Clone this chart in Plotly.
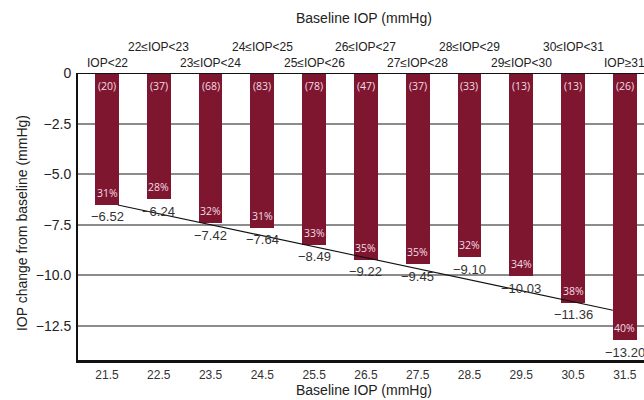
import plotly.graph_objects as go

# Baseline IOP groups (bin midpoints) and their labels
baseline_mid = [21.5, 22.5, 23.5, 24.5, 25.5, 26.5, 27.5, 28.5, 29.5, 30.5, 31.5]
group_labels = ["IOP<22", "22≤IOP<23", "23≤IOP<24", "24≤IOP<25", "25≤IOP<26",
                "26≤IOP<27", "27≤IOP<28", "28≤IOP<29", "29≤IOP<30", "30≤IOP<31", "IOP≥31"]

# Mean IOP change from baseline (mmHg), percent reduction and group sizes
iop_change = [-6.52, -6.24, -7.42, -7.64, -8.49, -9.22, -9.45, -9.10, -10.03, -11.36, -13.20]
pct_reduction = [31, 28, 32, 31, 33, 35, 35, 32, 34, 38, 40]
n_patients = [20, 37, 68, 83, 78, 47, 37, 33, 13, 13, 26]

# Trend line endpoints
trend_x = [21.71, 31.27]
trend_y = [-6.52, -11.72]

# Y axis ticks
y_ticks = [0, -2.5, -5.0, -7.5, -10.0, -12.5]
y_ticktext = ["0", "\u22122.5", "\u22125.0", "\u22127.5", "\u221210.0", "\u221212.5"]

BAR = "#7e1630"
AXIS_FONT = "Liberation Sans, Arial, sans-serif"
INNER_FONT = "Open Sans, sans-serif"


def fmt(v):
    return f"{v:.2f}".replace("-", "\u2212")


fig = go.Figure()

fig.add_trace(go.Bar(
    x=baseline_mid, y=iop_change, width=0.46,
    marker=dict(color=BAR, line=dict(width=0)),
    hoverinfo="skip", showlegend=False,
))

fig.add_trace(go.Scatter(
    x=trend_x, y=trend_y, mode="lines",
    line=dict(color="#111111", width=1.1),
    hoverinfo="skip", showlegend=False,
))

annotations = []
for i, (x, v, p, n, lab) in enumerate(zip(baseline_mid, iop_change, pct_reduction,
                                          n_patients, group_labels)):
    # group size near top of bar
    annotations.append(dict(x=x, y=0, xref="x", yref="y", text=f"({n})",
                            showarrow=False, xanchor="center", yanchor="middle",
                            yshift=-13, font=dict(family=INNER_FONT, size=10.5, color="#f3dce2")))
    # percent reduction near bottom of bar
    annotations.append(dict(x=x, y=v, xref="x", yref="y", text=f"{p}%",
                            showarrow=False, xanchor="center", yanchor="middle",
                            yshift=12, font=dict(family=INNER_FONT, size=10.5, color="#f3dce2")))
    # mean change below bar
    annotations.append(dict(x=x, y=v, xref="x", yref="y", text=fmt(v),
                            showarrow=False, xanchor="center", yanchor="middle",
                            yshift=-12, font=dict(family=AXIS_FONT, size=13, color="#333333")))
    # group range label above plot, staggered in two rows
    annotations.append(dict(x=x, y=1, xref="x", yref="paper", text=lab,
                            showarrow=False, xanchor="center", yanchor="middle",
                            yshift=10 if i % 2 == 0 else 26,
                            font=dict(family=AXIS_FONT, size=12, color="#222222")))

# Axis titles
annotations.append(dict(x=0.505, y=1, xref="paper", yref="paper", text="Baseline IOP (mmHg)",
                        showarrow=False, xanchor="center", yanchor="middle", yshift=55,
                        font=dict(family=AXIS_FONT, size=14, color="#222222")))
annotations.append(dict(x=0.505, y=0, xref="paper", yref="paper", text="Baseline IOP (mmHg)",
                        showarrow=False, xanchor="center", yanchor="bottom", yshift=-40,
                        font=dict(family=AXIS_FONT, size=14, color="#222222")))
annotations.append(dict(x=-0.099, y=0.477, xref="paper", yref="paper",
                        text="IOP change from baseline (mmHg)", textangle=-90,
                        showarrow=False, xanchor="center", yanchor="middle",
                        font=dict(family=AXIS_FONT, size=14, color="#222222")))

shapes = [
    # top line at zero
    dict(type="line", xref="paper", yref="y", x0=0, x1=1, y0=y_ticks[0], y1=y_ticks[0],
         line=dict(color="#111111", width=2)),
    # darker lowest gridline
    dict(type="line", xref="paper", yref="y", x0=0, x1=1, y0=y_ticks[-1], y1=y_ticks[-1],
         line=dict(color="#333333", width=1.5), layer="below"),
]

fig.update_layout(
    width=644, height=400,
    margin=dict(l=78, r=0, t=73, b=40),
    paper_bgcolor="white", plot_bgcolor="white",
    annotations=annotations, shapes=shapes,
    bargap=0,
    xaxis=dict(
        range=[20.94, 31.87], tickvals=baseline_mid,
        ticktext=[f"{x:.1f}" for x in baseline_mid],
        showgrid=False, zeroline=False,
        showline=True, linecolor="#111111", linewidth=2.5,
        ticks="", ticklabelstandoff=2,
        tickfont=dict(family=AXIS_FONT, size=12, color="#333333"),
    ),
    yaxis=dict(
        range=[-14.18, 0], tickvals=y_ticks, ticktext=y_ticktext,
        showgrid=True, gridcolor="#8c8c8c", gridwidth=1.5, zeroline=False,
        showline=True, linecolor="#111111", linewidth=2,
        ticks="", ticklabelstandoff=2,
        tickfont=dict(family=AXIS_FONT, size=14, color="#222222"),
    ),
)

fig.write_html("out.html")
